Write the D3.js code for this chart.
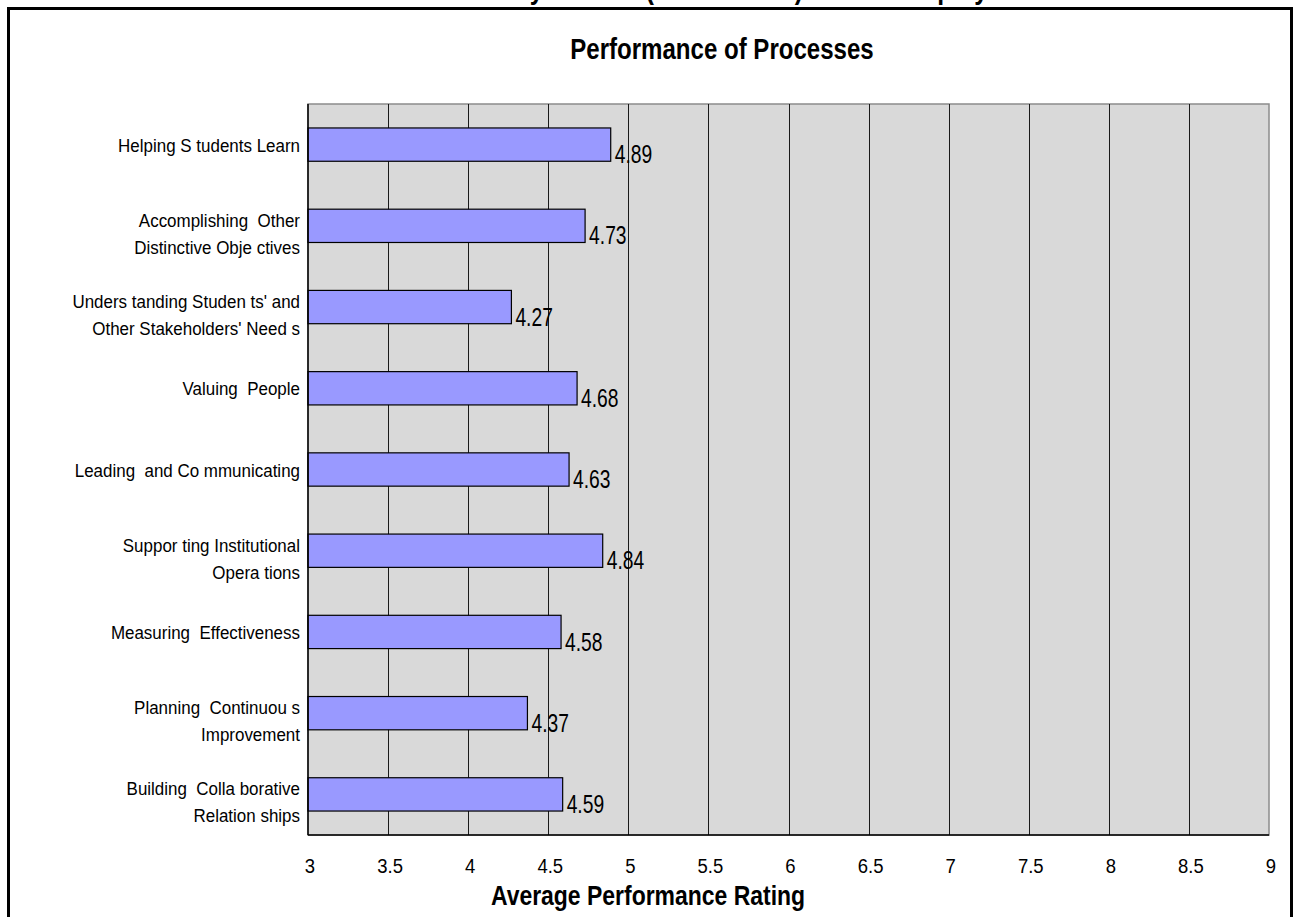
<!DOCTYPE html>
<html lang="en">
<head>
<meta charset="UTF-8">
<title>Performance of Processes</title>
<script src="https://d3js.org/d3.v7.min.js"></script>
<style>
    body {
        margin: 0;
        background: #fff;
    }
    text {
        font-family: "Liberation Sans", Arial, sans-serif;
        fill: #000;
        white-space: pre;
    }
    .grid line {
        stroke: #1a1a1a;
        shape-rendering: crispEdges;
    }
</style>
</head>
<body>
<div id="chart"></div>
<script>
// categories (each one is a list of label lines, spacing kept as in the source)
var categories = [
    ["Helping S tudents Learn"],
    ["Accomplishing  Other", "Distinctive Obje ctives"],
    ["Unders tanding Studen ts' and", "Other Stakeholders' Need s"],
    ["Valuing  People"],
    ["Leading  and Co mmunicating"],
    ["Suppor ting Institutional", "Opera tions"],
    ["Measuring  Effectiveness"],
    ["Planning  Continuou s", "Improvement"],
    ["Building  Colla borative", "Relation ships"]
];
var ratings = [4.89, 4.73, 4.27, 4.68, 4.63, 4.84, 4.58, 4.37, 4.59];
var xTicks = [3, 3.5, 4, 4.5, 5, 5.5, 6, 6.5, 7, 7.5, 8, 8.5, 9];

var W = 1294, H = 917;
var plot = {left: 308, right: 1269, top: 104, bottom: 835};

var svg = d3.select("#chart")
    .append("svg")
    .attr("width", W)
    .attr("height", H);

// narrow look: place a text and squeeze it sideways
function narrow(sel, tx, ty, sx) {
    return sel.attr("transform", "translate(" + tx + "," + ty + ") scale(" + sx + ",1)");
}

// outer frame (runs past the bottom of the picture)
svg.append("rect")
    .attr("x", 8.5)
    .attr("y", 8.5)
    .attr("width", 1283)
    .attr("height", 940)
    .attr("fill", "none")
    .attr("stroke", "#000")
    .attr("stroke-width", 3);

// page heading above the frame, cut off by the picture's top edge
narrow(svg.append("text"), 700, -1, 0.82)
    .attr("text-anchor", "middle")
    .style("font-size", "30px")
    .style("font-weight", "bold")
    .text("Overall Survey Results (All Sections) Across Employees");

var x = d3.scaleLinear()
    .domain([3, 9])
    .range([plot.left, plot.right]);

var y = d3.scaleBand()
    .domain(d3.range(categories.length))
    .range([plot.top, plot.bottom])
    .paddingInner(0.59)
    .paddingOuter(0.295);

// plot background
svg.append("rect")
    .attr("x", plot.left)
    .attr("y", plot.top)
    .attr("width", plot.right - plot.left)
    .attr("height", plot.bottom - plot.top)
    .attr("fill", "#d9d9d9")
    .attr("stroke", "#8c8c8c")
    .attr("stroke-width", 1.5);

// vertical grid lines
svg.append("g")
    .attr("class", "grid")
    .selectAll("line")
    .data(xTicks.slice(1, -1))
    .enter().append("line")
    .attr("x1", function(d) { return Math.round(x(d)) + 0.5; })
    .attr("x2", function(d) { return Math.round(x(d)) + 0.5; })
    .attr("y1", plot.top)
    .attr("y2", plot.bottom)
    .attr("stroke-width", 1.3);

// bars
svg.selectAll("rect.bar")
    .data(ratings)
    .enter().append("rect")
    .attr("class", "bar")
    .attr("x", x(3))
    .attr("y", function(d, i) { return y(i); })
    .attr("width", function(d) { return x(d) - x(3); })
    .attr("height", y.bandwidth())
    .attr("fill", "#9999ff")
    .attr("stroke", "#000")
    .attr("stroke-width", 1.2);

// value labels
svg.selectAll("text.val")
    .data(ratings)
    .enter().append("text")
    .attr("class", "val")
    .attr("transform", function(d, i) {
        return "translate(" + (x(d) + 4) + "," + (y(i) + y.bandwidth() + 2) + ") scale(0.77,1)";
    })
    .style("font-size", "25px")
    .text(function(d) { return d.toFixed(2); });

// left and bottom axis lines
svg.append("line")
    .attr("x1", plot.left).attr("x2", plot.left)
    .attr("y1", plot.top).attr("y2", plot.bottom)
    .attr("stroke", "#000").attr("stroke-width", 1.5);
svg.append("line")
    .attr("x1", plot.left).attr("x2", plot.right)
    .attr("y1", plot.bottom).attr("y2", plot.bottom)
    .attr("stroke", "#000").attr("stroke-width", 1.5);

// category labels
var catLabels = svg.selectAll("text.cat")
    .data(categories)
    .enter().append("text")
    .attr("class", "cat")
    .attr("text-anchor", "end")
    .style("font-size", "17.5px")
    .attr("transform", function(d, i) {
        var c = y(i) + y.bandwidth() / 2;
        var base = d.length == 1 ? c + 7 : c + 1;
        return "translate(300," + base + ") scale(0.97,1)";
    });

catLabels.selectAll("tspan")
    .data(function(d) { return d; })
    .enter().append("tspan")
    .attr("x", 0)
    .attr("y", function(d, i) { return i * 27; })
    .text(function(d) { return d; });

// x tick labels
svg.selectAll("text.tick")
    .data(xTicks)
    .enter().append("text")
    .attr("class", "tick")
    .attr("transform", function(d) {
        return "translate(" + (x(d) + 2) + ",873) scale(0.88,1)";
    })
    .attr("text-anchor", "middle")
    .style("font-size", "21px")
    .text(function(d) { return d; });

// titles
narrow(svg.append("text"), 722, 59, 0.83)
    .attr("text-anchor", "middle")
    .style("font-size", "29px")
    .style("font-weight", "bold")
    .text("Performance of Processes");

narrow(svg.append("text"), 648, 905, 0.82)
    .attr("text-anchor", "middle")
    .style("font-size", "28px")
    .style("font-weight", "bold")
    .text("Average Performance Rating");
</script>
</body>
</html>
